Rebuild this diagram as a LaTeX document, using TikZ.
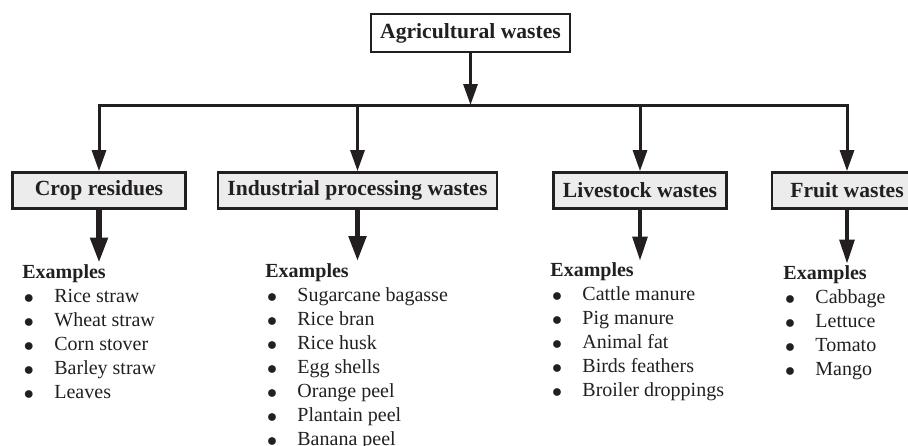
\documentclass[tikz,border=0pt]{standalone}
\usepackage{fontspec}
\setmainfont{Liberation Serif}
\usetikzlibrary{positioning,arrows.meta}
\definecolor{inkblack}{RGB}{35,31,32}
\definecolor{boxgrey}{RGB}{236,236,236}
\newcommand{\wasteitem}[1]{\makebox[16pt][l]{\hspace{0.8pt}\raisebox{-0.6pt}{$\bullet$}}#1}

\begin{document}
\begin{tikzpicture}[
    x=0.5pt, y=-0.5pt,
    color=inkblack,
    root/.style={
        draw,
        line width=1.4pt,
        fill=white,
        font=\fontsize{10.8}{13}\selectfont\bfseries,
        align=center,
        inner sep=0pt,
        minimum width=99.5pt,
        minimum height=19pt
    },
    branch/.style={
        draw,
        line width=1.4pt,
        fill=boxgrey,
        font=\fontsize{10.8}{13}\selectfont\bfseries,
        align=center,
        inner sep=0pt,
        minimum height=18pt
    },
    examples/.style={
        anchor=north west,
        align=left,
        inner sep=0pt,
        font=\fontsize{10}{12}\selectfont
    },
    arrow/.style={-{Triangle[length=10.5pt,width=7pt]}, line width=1.5pt},
    slimarrow/.style={-{Triangle[length=12pt,width=7.5pt]}, line width=1.6pt, shorten >=1pt},
    bigarrow/.style={-{Triangle[length=12.5pt,width=8.5pt]}, line width=2.6pt, shorten >=1pt}
]
\useasboundingbox (0,0) rectangle (908,445);
\clip (0,0) rectangle (908,445);

% ROOT
\node[root] (root) at (470.5,33) {Agricultural wastes};
\coordinate (bar) at (470.5,105);

% MAIN BRANCHES
\node[branch, minimum width=86.5pt]  (crop)       at (99,190.5)  {Crop residues};
\node[branch, minimum width=139.5pt] (industrial) at (357.5,190.5) {Industrial processing wastes};
\node[branch, minimum width=86.5pt]  (livestock)  at (640,190.5) {Livestock wastes};
\node[branch, minimum width=75pt]    (fruit)      at (847,190.5) {Fruit wastes};

\draw[arrow] (root) -- (bar);
\draw[line width=1.5pt, line cap=rect] (crop.north |- bar) -- (fruit.north |- bar);
\foreach \b in {crop,industrial,livestock,fruit}
    \draw[arrow] (\b.north |- bar) -- (\b);

% EXAMPLES
\node[examples] (cropex) at (22,264.5)
{\textbf{Examples}\\
 \wasteitem{Rice straw}\\
 \wasteitem{Wheat straw}\\
 \wasteitem{Corn stover}\\
 \wasteitem{Barley straw}\\
 \wasteitem{Leaves}};

\node[examples] (industrialex) at (265,263)
{\textbf{Examples}\\
 \wasteitem{Sugarcane bagasse}\\
 \wasteitem{Rice bran}\\
 \wasteitem{Rice husk}\\
 \wasteitem{Egg shells}\\
 \wasteitem{Orange peel}\\
 \wasteitem{Plantain peel}\\
 \wasteitem{Banana peel}};

\node[examples] (livestockex) at (550,262.5)
{\textbf{Examples}\\
 \wasteitem{Cattle manure}\\
 \wasteitem{Pig manure}\\
 \wasteitem{Animal fat}\\
 \wasteitem{Birds feathers}\\
 \wasteitem{Broiler droppings}};

\node[examples] (fruitex) at (783,265.5)
{\textbf{Examples}\\
 \wasteitem{Cabbage}\\
 \wasteitem{Lettuce}\\
 \wasteitem{Tomato}\\
 \wasteitem{Mango}};

\draw[bigarrow]  (crop)       -- (crop.south |- cropex.north);
\draw[bigarrow]  (industrial) -- (industrial.south |- industrialex.north);
\draw[slimarrow] (livestock)  -- (livestock.south |- livestockex.north);
\draw[slimarrow] (fruit)      -- (fruit.south |- fruitex.north);

\end{tikzpicture}
\end{document}
